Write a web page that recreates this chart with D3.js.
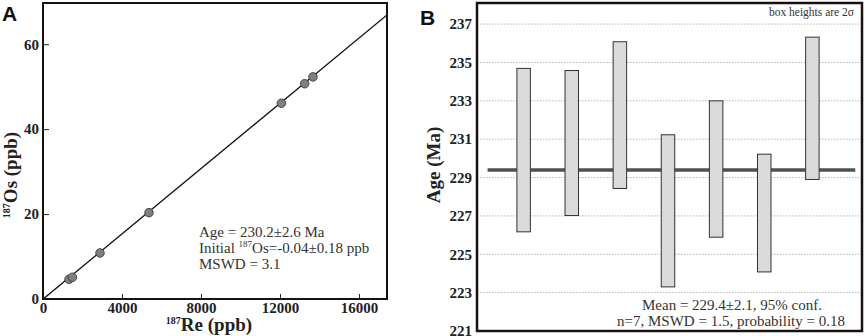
<!DOCTYPE html>
<html>
<head>
<meta charset="utf-8">
<script src="https://cdn.jsdelivr.net/npm/d3@7"></script>
<style>
  body { margin: 0; background: #fff; }
  svg { display: block; }
</style>
</head>
<body>
<script>
const W = 865, H = 336;

// Panel A: Re-Os isochron
const reValues = [1316, 1489, 2886, 5367, 12071, 13250, 13671];
const osValues = [4.64, 5.11, 10.84, 20.33, 46.1, 50.7, 52.3];
const isoSlope = 0.003842;
const isoIntercept = -0.04;
const xTicksA = [0, 4000, 8000, 12000, 16000];
const yTicksA = [0, 20, 40, 60];

// Panel B: weighted mean ages (box top / bottom, Ma)
const boxTop = [234.69, 234.58, 236.08, 231.23, 233.0, 230.22, 236.32];
const boxBottom = [226.17, 227.02, 228.43, 223.30, 225.89, 224.08, 228.9];
const meanAge = 229.4;
const yTicksB = [221, 223, 225, 227, 229, 231, 233, 235, 237];

const svg = d3.select("body").append("svg")
    .attr("width", W)
    .attr("height", H);

const serif = '"Liberation Serif", "Times New Roman", serif';

// style tick labels as bold serif
function styleTicks(g, size) {
    g.attr("font-family", serif);
    g.selectAll("text")
        .attr("font-family", serif)
        .attr("font-weight", "bold")
        .attr("font-size", size)
        .attr("fill", "#222");
}

// ---------- Panel A ----------
const ax = { l: 43, r: 387, t: 3, b: 299 };
const xA = d3.scaleLinear().domain([0, 17420]).range([ax.l, ax.r]);
const yA = d3.scaleLinear().domain([0, 69.7]).range([ax.b, ax.t]);

const gA = svg.append("g");

gA.append("g")
    .attr("transform", `translate(0,${ax.b})`)
    .call(d3.axisBottom(xA).tickValues(xTicksA).tickFormat(d3.format("d"))
        .tickSizeInner(-5).tickSizeOuter(0).tickPadding(3))
    .call(g => g.select(".domain").remove())
    .call(g => styleTicks(g, 15))
    .call(g => g.selectAll("line").attr("stroke", "#222"));

gA.append("g")
    .attr("transform", `translate(${ax.l},0)`)
    .call(d3.axisLeft(yA).tickValues(yTicksA).tickSizeInner(-6).tickSizeOuter(0).tickPadding(4))
    .call(g => g.select(".domain").remove())
    .call(g => styleTicks(g, 15))
    .call(g => g.selectAll("line").attr("stroke", "#222"));

// clip for the isochron line
svg.append("clipPath").attr("id", "clipA")
    .append("rect")
    .attr("x", ax.l).attr("y", ax.t)
    .attr("width", ax.r - ax.l).attr("height", ax.b - ax.t);

const xMaxA = xA.domain()[1];
gA.append("line")
    .attr("clip-path", "url(#clipA)")
    .attr("x1", xA(0)).attr("y1", yA(isoIntercept))
    .attr("x2", xA(xMaxA)).attr("y2", yA(isoIntercept + isoSlope * xMaxA))
    .attr("stroke", "#111")
    .attr("stroke-width", 1.3);

gA.selectAll("circle")
    .data(reValues)
    .enter()
    .append("circle")
    .attr("cx", d => xA(d))
    .attr("cy", (d, i) => yA(osValues[i]))
    .attr("r", 4.3)
    .attr("fill", "#7f7f7f")
    .attr("stroke", "#333")
    .attr("stroke-width", 0.8);

gA.append("rect")
    .attr("x", ax.l).attr("y", ax.t)
    .attr("width", ax.r - ax.l).attr("height", ax.b - ax.t)
    .attr("fill", "none")
    .attr("stroke", "#1a1010")
    .attr("stroke-width", 2);

// annotation
const noteA = gA.append("text")
    .attr("font-family", serif)
    .attr("font-size", 15)
    .attr("fill", "#333");
noteA.append("tspan").attr("x", 199).attr("y", 237).text("Age = 230.2±2.6 Ma");
const l2 = noteA.append("tspan").attr("x", 199).attr("y", 253);
l2.append("tspan").text("Initial ");
l2.append("tspan").attr("font-size", 9).attr("dy", -6).text("187");
l2.append("tspan").attr("dy", 6).text("Os=-0.04±0.18 ppb");
noteA.append("tspan").attr("x", 199).attr("y", 269).text("MSWD = 3.1");

// axis titles
const xtA = gA.append("text")
    .attr("x", 209).attr("y", 331)
    .attr("text-anchor", "middle")
    .attr("font-family", serif)
    .attr("font-weight", "bold")
    .attr("font-size", 19)
    .attr("fill", "#222");
xtA.append("tspan").attr("font-size", 10).attr("dy", -7).text("187");
xtA.append("tspan").attr("dy", 7).text("Re (ppb)");

const ytA = gA.append("text")
    .attr("transform", "translate(17,175) rotate(-90)")
    .attr("text-anchor", "middle")
    .attr("font-family", serif)
    .attr("font-weight", "bold")
    .attr("font-size", 19)
    .attr("fill", "#222");
ytA.append("tspan").attr("font-size", 10).attr("dy", -7).text("187");
ytA.append("tspan").attr("dy", 7).text("Os (ppb)");

svg.append("text")
    .attr("x", 2).attr("y", 21)
    .attr("font-family", '"Liberation Sans", Arial, sans-serif')
    .attr("font-weight", "bold")
    .attr("font-size", 21)
    .attr("fill", "#111")
    .text("A");

// ---------- Panel B ----------
const bx = { l: 477, r: 862, t: 3, b: 331 };
const xB = d3.scaleLinear().domain([0, boxTop.length + 1]).range([bx.l, bx.r]);
const yB = d3.scaleLinear().domain([221, 238.1]).range([bx.b, bx.t]);

const gB = svg.append("g");

// grid
gB.selectAll("line.grid")
    .data(yTicksB.slice(1))
    .enter()
    .append("line")
    .attr("class", "grid")
    .attr("x1", bx.l).attr("x2", bx.r)
    .attr("y1", d => yB(d)).attr("y2", d => yB(d))
    .attr("stroke", "#b5b5b5")
    .attr("stroke-width", 1)
    .attr("stroke-dasharray", "1.5,1.5");

gB.append("g")
    .attr("transform", `translate(${bx.l},0)`)
    .call(d3.axisLeft(yB).tickValues(yTicksB).tickSize(0).tickPadding(5))
    .call(g => g.select(".domain").remove())
    .call(g => styleTicks(g, 15));

// mean line
gB.append("line")
    .attr("x1", xB(0.22)).attr("x2", xB(7.86))
    .attr("y1", yB(meanAge)).attr("y2", yB(meanAge))
    .attr("stroke", "#505050")
    .attr("stroke-width", 3.5);

const boxW = 13.5;
gB.selectAll("rect.box")
    .data(boxTop)
    .enter()
    .append("rect")
    .attr("class", "box")
    .attr("x", (d, i) => xB(i + 1) - 1.5 - boxW / 2)
    .attr("y", d => yB(d))
    .attr("width", boxW)
    .attr("height", (d, i) => yB(boxBottom[i]) - yB(d))
    .attr("fill", "#dadada")
    .attr("stroke", "#333")
    .attr("stroke-width", 1);

gB.append("rect")
    .attr("x", bx.l).attr("y", bx.t)
    .attr("width", bx.r - bx.l).attr("height", bx.b - bx.t)
    .attr("fill", "none")
    .attr("stroke", "#1a1010")
    .attr("stroke-width", 2.5);

gB.append("text")
    .attr("x", 854).attr("y", 16)
    .attr("text-anchor", "end")
    .attr("font-family", serif)
    .attr("font-size", 11.5)
    .attr("fill", "#333")
    .text("box heights are 2σ");

const noteB = gB.append("text")
    .attr("text-anchor", "middle")
    .attr("font-family", serif)
    .attr("font-size", 15)
    .attr("fill", "#333");
noteB.append("tspan").attr("x", 732).attr("y", 310).text("Mean = 229.4±2.1, 95% conf.");
noteB.append("tspan").attr("x", 731).attr("y", 326).text("n=7, MSWD = 1.5, probability = 0.18");

gB.append("text")
    .attr("transform", "translate(440,165) rotate(-90)")
    .attr("text-anchor", "middle")
    .attr("font-family", serif)
    .attr("font-weight", "bold")
    .attr("font-size", 19)
    .attr("fill", "#222")
    .text("Age (Ma)");

svg.append("text")
    .attr("x", 420).attr("y", 25)
    .attr("font-family", '"Liberation Sans", Arial, sans-serif')
    .attr("font-weight", "bold")
    .attr("font-size", 21)
    .attr("fill", "#111")
    .text("B");
</script>
</body>
</html>
